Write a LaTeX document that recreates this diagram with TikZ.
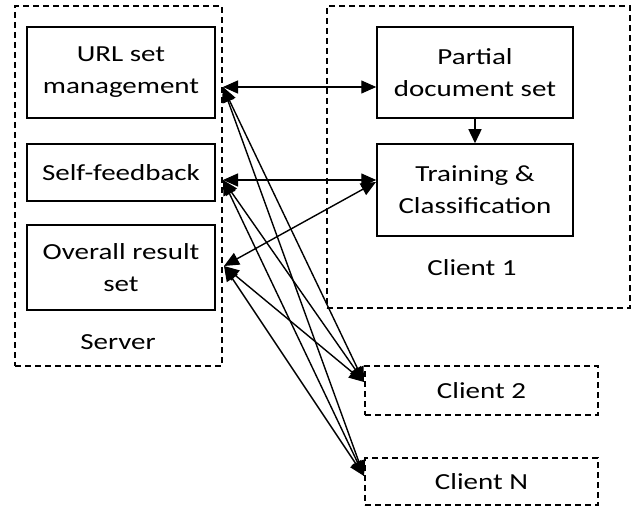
\documentclass[tikz,border=0pt]{standalone}
\usepackage{fontspec}
\setmainfont{Carlito}[FakeStretch=1.26]
\usetikzlibrary{arrows.meta}
\tikzset{
  solidbox/.style={draw, line width=1.5pt, minimum width=188pt, align=center, inner sep=0pt},
  dashbox/.style={draw, line width=1.5pt, dash pattern=on 6pt off 4pt, inner sep=0pt},
  lbl/.style={inner sep=0pt, align=center},
  conn/.style={line width=1.4pt, {Triangle[length=15pt,width=13pt]}-{Triangle[length=15pt,width=13pt]}},
  oneway/.style={line width=1.4pt, -{Triangle[length=14pt,width=13pt]}}
}
\begin{document}
\begin{tikzpicture}[x=1pt,y=-1pt,font=\fontsize{23}{32}\selectfont]
\useasboundingbox (0,0) rectangle (635,508);
% server
\node[dashbox, minimum width=207pt, minimum height=360pt] (server) at (118.5,186) {};
\node[solidbox, minimum height=91pt] (url) at (121,72.5) {URL set\\management};
\node[solidbox, minimum height=57pt] (self) at (121,172.5) {Self-feedback};
\node[solidbox, minimum height=85pt] (overall) at (121,267.5) {Overall result\\set};
\node[lbl] (serverlbl) at (118,342) {Server};
% client 1
\node[dashbox, minimum width=303pt, minimum height=302pt] (client1) at (478.5,157) {};
\node[solidbox, minimum width=196pt, minimum height=91pt] (partial) at (475,72.5) {Partial\\document set};
\node[solidbox, minimum width=196pt, minimum height=92pt] (training) at (475,190) {Training \&\\Classification};
\node[lbl] (c1lbl) at (472,268) {Client 1};
% client 2, N
\node[dashbox, minimum width=233pt, minimum height=49pt] (client2) at (481.5,390.5) {Client 2};
\node[dashbox, minimum width=233pt, minimum height=47pt] (clientN) at (481.5,481.5) {Client N};
% connection points
\coordinate (sU) at (223,87);
\coordinate (sS) at (223,180);
\coordinate (sO) at (224,266);
\coordinate (tO) at (376,182);
\coordinate (c2) at (364,382);
\coordinate (cN) at (364,476);
% connectors
\draw[conn] (sU) -- (sU -| partial.west);
\draw[conn] (sS) -- (sS -| training.west);
\draw[conn] (sO) -- (tO);
\draw[oneway] (partial.south) -- (training.north);
\draw[conn] (sU) -- (c2);
\draw[conn] (sU) -- (cN);
\draw[conn] (sS) -- (c2);
\draw[conn] (sS) -- (cN);
\draw[conn] (sO) -- (c2);
\draw[conn] (sO) -- (cN);
\end{tikzpicture}
\end{document}
